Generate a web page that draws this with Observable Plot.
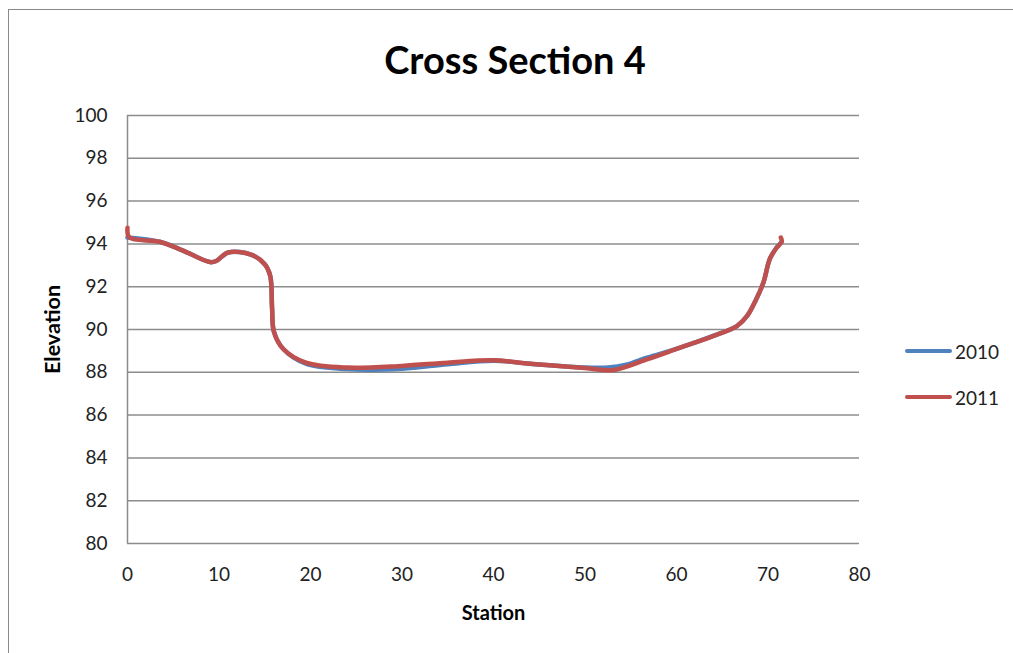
<!DOCTYPE html>
<html>
<head>
<meta charset="utf-8">
<script src="https://cdn.jsdelivr.net/npm/d3@7"></script>
<script src="https://cdn.jsdelivr.net/npm/@observablehq/plot@0.6"></script>
<style>
  html, body { margin: 0; padding: 0; background: #fff; }
  #chart { position: relative; width: 1013px; height: 653px; overflow: hidden; font-family: Lato, "Open Sans", sans-serif; }
  #frame { position: absolute; left: 8px; top: 9px; width: 1100px; height: 700px; border: 1.5px solid #8a8a8a; box-sizing: border-box; }
  #title { position: absolute; left: 0; width: 1030px; top: 36px; text-align: center; font-weight: bold; font-size: 38px; color: #000; }
  #plot { position: absolute; left: 0; top: 90px; }
  #legend { position: absolute; left: 905px; top: 338px; font-size: 19px; color: #222; }
  .item { display: flex; align-items: center; height: 26px; margin-bottom: 20px; }
  .swatch { width: 47px; height: 4px; margin-right: 3px; border-radius: 2px; }
  svg text { font-family: Lato, "Open Sans", sans-serif; }
  g[aria-label="x-axis label"] text { font-weight: bold; fill: #000; font-size: 20px; }
  g[aria-label="y-axis label"] text { font-weight: bold; fill: #000; font-size: 21.5px; }
</style>
</head>
<body>
<div id="chart">
  <div id="frame"></div>
  <div id="title">Cross Section 4</div>
  <div id="plot"></div>
  <div id="legend"></div>
</div>
<script>
// Surveyed cross-section profiles (station in ft, elevation in ft)
const station2010 = [0, 3.5, 6, 9, 9.7, 11, 13.5, 15, 15.6, 15.8, 16, 17, 19.5, 24, 30, 35, 40, 44, 50, 52.5, 54.5, 56.75, 60.4, 64, 66.6, 67.7, 68.7, 69.5, 70.2, 70.9, 71.5];
const elev2010    = [94.3, 94.1, 93.7, 93.15, 93.2, 93.6, 93.5, 93.05, 92.5, 91.0, 89.9, 89.1, 88.4, 88.15, 88.17, 88.38, 88.54, 88.4, 88.22, 88.22, 88.35, 88.68, 89.15, 89.7, 90.16, 90.62, 91.4, 92.2, 93.3, 93.8, 94.1];

const station2011 = [0, 0.2, 3.5, 6, 9, 9.7, 11, 13.5, 15, 15.6, 15.8, 16, 17, 19.5, 24, 30, 35, 40, 44, 50, 53, 56.75, 60.4, 64, 66.6, 67.7, 68.7, 69.5, 70.2, 70.9, 71.5, 71.4];
const elev2011    = [94.75, 94.3, 94.1, 93.7, 93.15, 93.2, 93.6, 93.5, 93.05, 92.5, 91.0, 89.9, 89.1, 88.45, 88.22, 88.3, 88.45, 88.56, 88.4, 88.2, 88.1, 88.6, 89.15, 89.69, 90.16, 90.62, 91.4, 92.2, 93.3, 93.8, 94.1, 94.3];

const seriesNames  = ["2010", "2011"];
const seriesColors = ["#4F81BD", "#C0504D"];
const xTicks = [0, 10, 20, 30, 40, 50, 60, 70, 80];
const yTicks = [80, 82, 84, 86, 88, 90, 92, 94, 96, 98, 100];

const rows = (xs, ys, name) => xs.map((x, i) => ({station: x, elevation: ys[i], year: name}));
const data2010 = rows(station2010, elev2010, seriesNames[0]);
const data2011 = rows(station2011, elev2011, seriesNames[1]);

const chart = Plot.plot({
  width: 1013,
  height: 563,
  marginLeft: 127,
  marginRight: 154,
  marginTop: 25,
  marginBottom: 110,
  style: {fontSize: "19px", color: "#222", background: "transparent"},
  x: {domain: [0, 80]},
  y: {domain: [80, 100]},
  color: {domain: seriesNames, range: seriesColors},
  marks: [
    Plot.gridY(yTicks, {stroke: "#8c8c8c", strokeOpacity: 1, strokeWidth: 1.5}),
    Plot.ruleX([0], {stroke: "#8c8c8c", strokeWidth: 1.5}),
    Plot.axisY({ticks: yTicks, tickSize: 0, tickPadding: 20, label: "Elevation", labelAnchor: "center", labelArrow: "none", labelOffset: 83, fontSize: 19}),
    Plot.axisX({ticks: xTicks, tickSize: 0, tickPadding: 24, label: "Station", labelAnchor: "center", labelArrow: "none", labelOffset: 76, fontSize: 19}),
    Plot.line(data2010, {x: "station", y: "elevation", stroke: "year", strokeWidth: 4.5, curve: "catmull-rom"}),
    Plot.line(data2011, {x: "station", y: "elevation", stroke: "year", strokeWidth: 4.5, curve: "catmull-rom"})
  ]
});
document.getElementById("plot").appendChild(chart);

// Legend on the right
const legend = document.getElementById("legend");
seriesNames.forEach((name, i) => {
  const item = document.createElement("div");
  item.className = "item";
  item.innerHTML = `<span class="swatch" style="background:${seriesColors[i]}"></span><span>${name}</span>`;
  legend.appendChild(item);
});
</script>
</body>
</html>
